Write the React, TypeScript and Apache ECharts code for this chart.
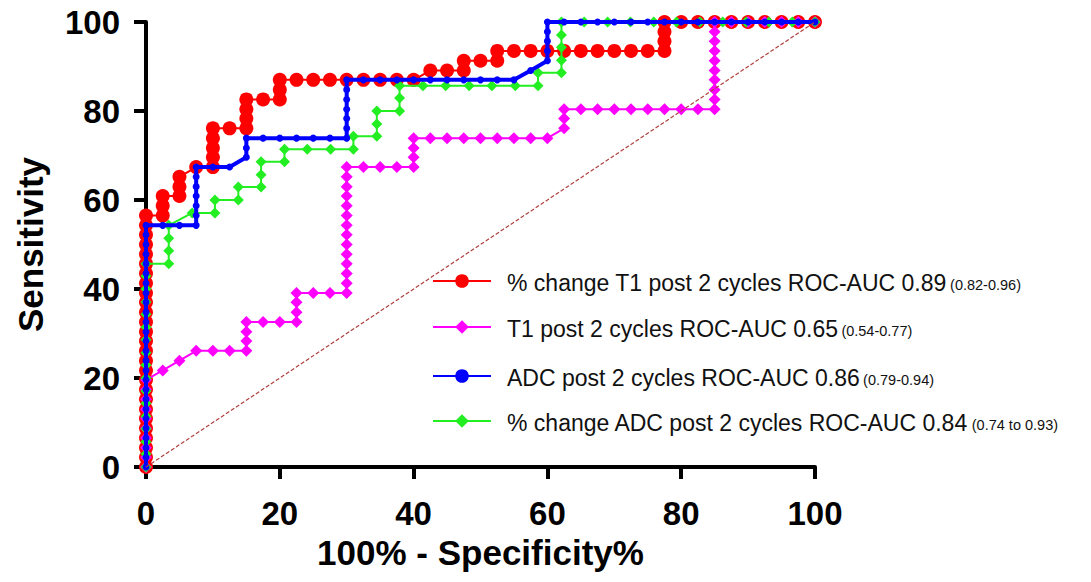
import React, { useEffect, useRef } from "react";
import * as echarts from "echarts";

const FONT = "'Liberation Sans', Arial, Helvetica, sans-serif";

const xTicks = [0, 20, 40, 60, 80, 100];
const yTicks = [0, 20, 40, 60, 80, 100];
const xTitle = "100% - Specificity%";
const yTitle = "Sensitivity";

const seriesNames = [
  "% change T1 post 2 cycles ROC-AUC 0.89",
  "T1 post 2 cycles ROC-AUC 0.65",
  "ADC post 2 cycles ROC-AUC 0.86",
  "% change ADC post 2 cycles ROC-AUC 0.84",
];
const ciTexts = ["(0.82-0.96)", "(0.54-0.77)", "(0.79-0.94)", "(0.74 to 0.93)"];
const seriesColors = ["#ff0000", "#ff00ff", "#0000ff", "#22ee22"];

// % change T1 post 2 cycles
const redCurve: [number, number][] = [
  [0, 0], [0, 2.2], [0, 4.3], [0, 6.5], [0, 8.7], [0, 10.9], [0, 13.0], [0, 15.2], [0, 17.4],
  [0, 19.6], [0, 21.7], [0, 23.9], [0, 26.1], [0, 28.3], [0, 30.4], [0, 32.6], [0, 34.8],
  [0, 37.0], [0, 39.1], [0, 41.3], [0, 43.5], [0, 45.7], [0, 47.8], [0, 50.0], [0, 52.2],
  [0, 54.3], [0, 56.5],
  [2.5, 56.5], [2.5, 58.7], [2.5, 60.9], [5, 60.9], [5, 63.0], [5, 65.2], [7.5, 67.4],
  [10, 67.4], [10, 69.6], [10, 71.7], [10, 73.9], [10, 76.1], [12.5, 76.1], [15, 76.1],
  [15, 78.3], [15, 80.4], [15, 82.6], [17.5, 82.6], [20, 82.6], [20, 84.8], [20, 87.0],
  [22.5, 87.0], [25, 87.0], [27.5, 87.0], [30, 87.0], [32.5, 87.0], [35, 87.0], [37.5, 87.0],
  [40, 87.0], [42.5, 89.1], [45, 89.1], [47.5, 89.1], [47.5, 91.3], [50, 91.3], [52.5, 91.3],
  [52.5, 93.5], [55, 93.5], [57.5, 93.5], [60, 93.5], [62.5, 93.5], [65, 93.5], [67.5, 93.5],
  [70, 93.5], [72.5, 93.5], [75, 93.5], [77.5, 93.5], [77.5, 95.7], [77.5, 97.8], [77.5, 100],
  [80, 100], [82.5, 100], [85, 100], [87.5, 100], [90, 100], [92.5, 100], [95, 100],
  [97.5, 100], [100, 100],
];

// T1 post 2 cycles
const magentaCurve: [number, number][] = [
  [0, 0], [0, 2.2], [0, 4.3], [0, 6.5], [0, 8.7], [0, 10.9], [0, 13.0], [0, 15.2], [0, 17.4],
  [0, 19.6], [2.5, 21.7], [5, 23.9], [7.5, 26.1], [10, 26.1], [12.5, 26.1], [15, 26.1],
  [15, 28.3], [15, 30.4], [15, 32.6], [17.5, 32.6], [20, 32.6], [22.5, 32.6], [22.5, 34.8],
  [22.5, 37.0], [22.5, 39.1], [25, 39.1], [27.5, 39.1], [30, 39.1], [30, 41.3], [30, 43.5],
  [30, 45.7], [30, 47.8], [30, 50.0], [30, 52.2], [30, 54.3], [30, 56.5], [30, 58.7],
  [30, 60.9], [30, 63.0], [30, 65.2], [30, 67.4], [32.5, 67.4], [35, 67.4], [37.5, 67.4],
  [40, 67.4], [40, 69.6], [40, 71.7], [40, 73.9], [42.5, 73.9], [45, 73.9], [47.5, 73.9],
  [50, 73.9], [52.5, 73.9], [55, 73.9], [57.5, 73.9], [60, 73.9], [62.5, 76.1], [62.5, 78.3],
  [62.5, 80.4], [65, 80.4], [67.5, 80.4], [70, 80.4], [72.5, 80.4], [75, 80.4], [77.5, 80.4],
  [80, 80.4], [82.5, 80.4], [85, 80.4], [85, 82.6], [85, 84.8], [85, 87.0], [85, 89.1],
  [85, 91.3], [85, 93.5], [85, 95.7], [85, 97.8], [85, 100], [87.5, 100], [90, 100],
  [92.5, 100], [95, 100], [97.5, 100], [100, 100],
];

// % change ADC post 2 cycles
const greenCurve: [number, number][] = [
  [0, 0], [0, 2.9], [0, 5.7], [0, 8.6], [0, 11.4], [0, 14.3], [0, 17.1], [0, 20.0], [0, 22.9],
  [0, 25.7], [0, 28.6], [0, 31.4], [0, 34.3], [0, 37.1], [0, 40.0], [0, 42.9], [0, 45.7],
  [3.4, 45.7], [3.4, 48.6], [3.4, 51.4], [3.4, 54.3], [6.9, 57.1], [10.3, 57.1], [10.3, 60.0],
  [13.8, 60.0], [13.8, 62.9], [17.2, 62.9], [17.2, 65.7], [17.2, 68.6], [20.7, 68.6],
  [20.7, 71.4], [24.1, 71.4], [27.6, 71.4], [31.0, 71.4], [31.0, 74.3], [34.5, 74.3],
  [34.5, 77.1], [34.5, 80.0], [37.9, 80.0], [37.9, 82.9], [37.9, 85.7], [41.4, 85.7],
  [44.8, 85.7], [48.3, 85.7], [51.7, 85.7], [55.2, 85.7], [58.6, 85.7], [58.6, 88.6],
  [62.1, 88.6], [62.1, 91.4], [62.1, 94.3], [62.1, 97.1], [62.1, 100], [65.5, 100],
  [69.0, 100], [72.4, 100], [75.9, 100], [79.3, 100], [82.8, 100], [86.2, 100], [89.7, 100],
  [93.1, 100], [96.6, 100], [100, 100],
];

// ADC post 2 cycles
const blueCurve: [number, number][] = [
  [0, 0], [0, 2.2], [0, 4.3], [0, 6.5], [0, 8.7], [0, 10.9], [0, 13.0], [0, 15.2], [0, 17.4],
  [0, 19.6], [0, 21.7], [0, 23.9], [0, 26.1], [0, 28.3], [0, 30.4], [0, 32.6], [0, 34.8],
  [0, 37.0], [0, 39.1], [0, 41.3], [0, 43.5], [0, 45.7], [0, 47.8], [0, 50.0], [0, 52.2],
  [0, 54.3], [2.5, 54.3], [5, 54.3], [7.5, 54.3], [7.5, 56.5], [7.5, 58.7], [7.5, 60.9],
  [7.5, 63.0], [7.5, 65.2], [7.5, 67.4], [10, 67.4], [12.5, 67.4], [15, 69.6], [15, 71.7],
  [15, 73.9], [17.5, 73.9], [20, 73.9], [22.5, 73.9], [25, 73.9], [27.5, 73.9], [30, 73.9],
  [30, 76.1], [30, 78.3], [30, 80.4], [30, 82.6], [30, 84.8], [30, 87.0], [32.5, 87.0],
  [35, 87.0], [37.5, 87.0], [40, 87.0], [42.5, 87.0], [45, 87.0], [47.5, 87.0], [50, 87.0],
  [52.5, 87.0], [55, 87.0], [57.5, 89.1], [60, 91.3], [60, 93.5], [60, 95.7], [60, 97.8],
  [60, 100], [62.5, 100], [65, 100], [67.5, 100], [70, 100], [72.5, 100], [75, 100],
  [77.5, 100], [80, 100], [82.5, 100], [85, 100], [87.5, 100], [90, 100], [92.5, 100],
  [95, 100], [97.5, 100], [100, 100],
];

const chanceLine: [number, number][] = [
  [0, 0],
  [100, 100],
];

const legendCentersY = [283, 329, 378, 423];

export default function App() {
  const ref = useRef<HTMLDivElement>(null);

  useEffect(() => {
    if (!ref.current) return;
    const chart = echarts.init(ref.current, null, { renderer: "svg" });

    const curves = [redCurve, magentaCurve, blueCurve, greenCurve];
    const symbols = ["circle", "diamond", "circle", "diamond"];
    const symbolSizes = [14, 12, 7, 11];
    const lineWidths = [2, 2, 4, 2];
    const zOrder = [2, 3, 5, 4];

    const series: any[] = curves.map((data, i) => ({
      name: seriesNames[i],
      type: "line",
      data,
      symbol: symbols[i],
      symbolSize: symbolSizes[i],
      showSymbol: true,
      showAllSymbol: true,
      clip: false,
      z: zOrder[i],
      itemStyle: { color: seriesColors[i] },
      lineStyle: { color: seriesColors[i], width: lineWidths[i] },
      emphasis: { disabled: true },
    }));

    series.push({
      name: "chance",
      type: "line",
      data: chanceLine,
      symbol: "none",
      z: 6,
      lineStyle: { color: "#b0413e", width: 1.2, type: [4, 2] },
      emphasis: { disabled: true },
    });

    const legends = seriesNames.map((name, i) => ({
      data: [name],
      left: 427,
      top: legendCentersY[i] - 17,
      orient: "horizontal",
      itemWidth: 58,
      itemHeight: 17,
      itemGap: 0,
      selectedMode: false,
      formatter: () => `{a|${seriesNames[i]}} {b|${ciTexts[i]}}`,
      textStyle: {
        padding: [0, 0, 0, 11],
        rich: {
          a: { fontSize: 23, fontFamily: FONT, color: "#111", verticalAlign: "bottom", lineHeight: 26 },
          b: { fontSize: 14.5, fontFamily: FONT, color: "#111", verticalAlign: "bottom", lineHeight: 26, padding: [0, 0, 2, 0] },
        },
      },
    }));

    const axisCommon = {
      type: "value",
      min: 0,
      max: 100,
      interval: 20,
      axisLine: { show: true, lineStyle: { color: "#000", width: 4 } },
      axisTick: { show: true, inside: false, length: 12, lineStyle: { color: "#000", width: 4 } },
      splitLine: { show: false },
      nameLocation: "middle",
      nameTextStyle: { fontFamily: FONT, fontWeight: "bold", fontSize: 35, color: "#000" },
    };

    chart.setOption({
      animation: false,
      backgroundColor: "#fff",
      grid: { left: 146, right: 276, top: 22, bottom: 115, containLabel: false },
      legend: legends,
      xAxis: {
        ...axisCommon,
        name: xTitle,
        nameGap: 68,
        axisLabel: {
          fontFamily: FONT,
          fontWeight: "bold",
          fontSize: 33,
          color: "#000",
          margin: 30,
          formatter: (v: number) => (xTicks.includes(v) ? String(v) : ""),
        },
      },
      yAxis: {
        ...axisCommon,
        name: yTitle,
        nameGap: 98,
        axisLabel: {
          fontFamily: FONT,
          fontWeight: "bold",
          fontSize: 33,
          color: "#000",
          margin: 26,
          formatter: (v: number) => (yTicks.includes(v) ? String(v) : ""),
        },
      },
      series,
    });

    return () => chart.dispose();
  }, []);

  return (
    <div
      ref={ref}
      style={{ position: "fixed", left: 0, top: 0, width: 1091, height: 582, background: "#fff" }}
    />
  );
}
